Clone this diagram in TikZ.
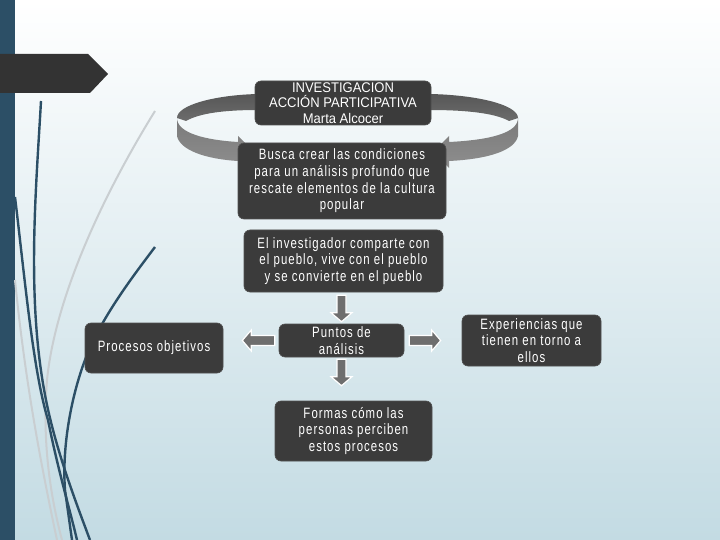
\documentclass[tikz,border=0pt]{standalone}
\usepackage{fontspec}
\setmainfont{Liberation Sans}
\newfontfamily\boxfont{Liberation Sans}[FakeStretch=0.76, LetterSpace=7]
\newfontfamily\topfont{Liberation Sans}[FakeStretch=0.93]
\usetikzlibrary{calc}
\definecolor{barblue}{HTML}{2C4F66}
\definecolor{bgbottom}{HTML}{C3DBE3}
\definecolor{bgmid}{HTML}{E2EDF1}
\definecolor{boxgray}{HTML}{3B3B3B}
\definecolor{boxedge}{HTML}{505050}
\definecolor{arrgray}{HTML}{6E6E6E}
\definecolor{lightline}{HTML}{C9CED1}
\definecolor{bannergray}{HTML}{333333}
\definecolor{backtop}{HTML}{575757}
\definecolor{backbot}{HTML}{6C6C6C}
\definecolor{fronttop}{HTML}{7A7A7A}
\definecolor{frontbot}{HTML}{8E8E8E}
\begin{document}
\begin{tikzpicture}[x=1pt,y=-1pt,
  box/.style={fill=boxgray, draw=boxedge, line width=0.6pt, rounded corners=6pt,
    text=white, align=center, inner sep=0pt,
    font=\boxfont\fontsize{15}{16.7}\selectfont},
  barrow/.style={fill=arrgray, draw=white, line width=1.2pt, line join=miter},
  darkdeco/.style={draw=barblue, line width=2.4pt},
  lightdeco/.style={draw=lightline, line width=2pt}]
\useasboundingbox (0,0) rectangle (720,540);
% background
\shade[top color=white, middle color=bgmid, bottom color=bgbottom] (0,0) rectangle (720,540);
\fill[barblue] (0,0) rectangle (15,540);
% decorative curves
\draw[lightdeco] (155,111) .. controls (100,200) and (55,300) .. (47,380) .. controls (42,440) and (50,495) .. (62,540);
\draw[lightdeco] (15,280) .. controls (25,380) and (40,460) .. (57,540);
\draw[darkdeco] (41,101) .. controls (36,190) and (26,300) .. (46,400) .. controls (56,450) and (75,500) .. (90,540);
\draw[darkdeco] (15,197) .. controls (25,280) and (33,370) .. (48,420) .. controls (58,470) and (70,510) .. (77,540);
\draw[darkdeco] (155,247) .. controls (130,280) and (100,320) .. (85,360) .. controls (70,400) and (62,450) .. (65,490) -- (72,540);
% banner
\fill[bannergray] (0,54) -- (88,54) -- (108,74) -- (90,93) -- (0,93) -- cycle;
% circular ribbon arrow
\shade[top color=backtop, bottom color=backbot]
  (258,94) .. controls (215,95) and (177,105) .. (177,118) -- (186,121) .. controls (200,113) and (225,110) .. (258,110) -- cycle;
\shade[top color=backtop, bottom color=backbot]
  (430,94) .. controls (478,95) and (518,105) .. (518,118) -- (509,121) .. controls (495,113) and (465,110) .. (430,110) -- cycle;
\shade[top color=fronttop, bottom color=frontbot]
  (177,118) .. controls (177,133) and (205,140) .. (238,142) -- (238,136) -- (254,152) -- (238,168) -- (238,161) .. controls (205,159) and (180,150) .. (177,136) -- cycle;
\shade[top color=fronttop, bottom color=frontbot]
  (518,118) .. controls (518,133) and (490,140) .. (449,142) -- (449,136) -- (433,152) -- (449,168) -- (449,161) .. controls (490,159) and (515,150) .. (518,136) -- cycle;
% boxes
\node[box, minimum width=176pt, minimum height=44pt, font=\topfont\fontsize{14}{15.5}\selectfont] (top) at (343,103)
  {INVESTIGACION\\ACCIÓN PARTICIPATIVA\\Marta Alcocer};
\node[box, minimum width=208pt, minimum height=76pt] (busca) at (342,181)
  {Busca crear las condiciones\\para un análisis profundo que\\rescate elementos de la cultura\\popular};
\node[box, minimum width=199pt, minimum height=62pt] (inv) at (343.5,261)
  {El investigador comparte con\\el pueblo, vive con el pueblo\\y se convierte en el pueblo};
\node[box, minimum width=125pt, minimum height=33pt] (puntos) at (341.5,340.5)
  {Puntos de\\análisis};
\node[box, minimum width=157pt, minimum height=60pt] (formas) at (353.5,431)
  {Formas cómo las\\personas perciben\\estos procesos};
\node[box, minimum width=138pt, minimum height=50pt] (procesos) at (154,348)
  {Procesos objetivos};
\node[box, minimum width=139pt, minimum height=51pt] (exper) at (531.5,340.5)
  {Experiencias que\\tienen en torno a\\ellos};
% block arrows
\draw[barrow] ($(puntos.north|-inv.south)+(-4.5,3)$) -- ($(puntos.north|-inv.south)+(4.5,3)$)
  -- ($(puntos.north)+(4.5,-11)$) -- ($(puntos.north)+(10.5,-11)$) -- ($(puntos.north)+(0,-2)$)
  -- ($(puntos.north)+(-10.5,-11)$) -- ($(puntos.north)+(-4.5,-11)$) -- cycle;
\draw[barrow] ($(puntos.south)+(-4.5,2)$) -- ($(puntos.south)+(4.5,2)$)
  -- ($(puntos.south|-formas.north)+(4.5,-24)$) -- ($(puntos.south|-formas.north)+(10.5,-24)$)
  -- ($(puntos.south|-formas.north)+(0,-15)$)
  -- ($(puntos.south|-formas.north)+(-10.5,-24)$) -- ($(puntos.south|-formas.north)+(-4.5,-24)$) -- cycle;
\draw[barrow] ($(puntos.west)+(-4,-5)$) -- ($(puntos.west)+(-4,5)$)
  -- ($(procesos.east|-puntos.west)+(28,5)$) -- ($(procesos.east|-puntos.west)+(28,10.5)$)
  -- ($(procesos.east|-puntos.west)+(19,0)$)
  -- ($(procesos.east|-puntos.west)+(28,-10.5)$) -- ($(procesos.east|-puntos.west)+(28,-5)$) -- cycle;
\draw[barrow] ($(puntos.east)+(5,-5)$) -- ($(puntos.east)+(5,5)$)
  -- ($(exper.west|-puntos.east)+(-30,5)$) -- ($(exper.west|-puntos.east)+(-30,10.5)$)
  -- ($(exper.west|-puntos.east)+(-21,0)$)
  -- ($(exper.west|-puntos.east)+(-30,-10.5)$) -- ($(exper.west|-puntos.east)+(-30,-5)$) -- cycle;
\end{tikzpicture}
\end{document}
